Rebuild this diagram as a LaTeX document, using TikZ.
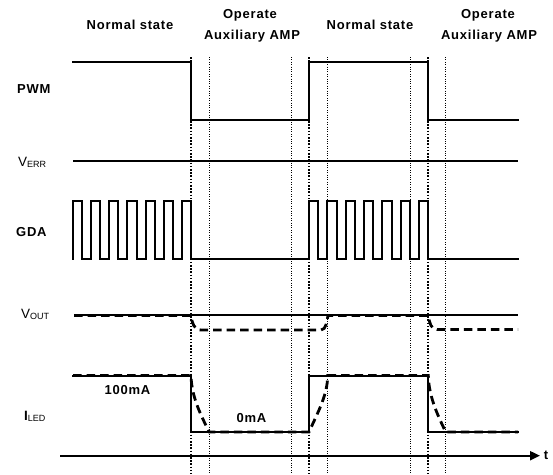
\documentclass[tikz,border=0pt]{standalone}
\usepackage{fontspec}
\setmainfont{Liberation Sans}
\newfontfamily\spfont[LetterSpace=6]{Liberation Sans}
\usetikzlibrary{arrows.meta}
\begin{document}
\begin{tikzpicture}[x=1pt,y=-1pt,
  sig/.style={line width=2pt, line join=miter, line cap=rect},
  thinsig/.style={line width=1.2pt},
  dsh/.style={line width=2.8pt, dash pattern=on 8.5pt off 5pt},
  bigdot/.style={line width=2pt, dash pattern=on 1.6pt off 1.6pt},
  smalldot/.style={line width=0.8pt, dash pattern=on 1pt off 1.4pt},
  hdr/.style={font=\spfont\bfseries\fontsize{13}{14}\selectfont, inner sep=0pt, anchor=base},
  lbl/.style={font=\spfont\bfseries\fontsize{13}{14}\selectfont, inner sep=0pt, anchor=base west},
  vlbl/.style={font=\fontsize{13.5}{14}\selectfont, inner sep=0pt, anchor=base west}]
\useasboundingbox (0,0) rectangle (553,474);

% header texts
\node[hdr] (ns1) at (130,29) {Normal state};
\node[hdr] (op1) at (250,18) {Operate};
\node[hdr] (ax1) at (252,39.5) {Auxiliary AMP};
\node[hdr] (ns2) at (370,29) {Normal state};
\node[hdr] (op2) at (488,18) {Operate};
\node[hdr] (ax2) at (489,39.5) {Auxiliary AMP};

% left labels
\node[lbl] (lpwm) at (17,93) {PWM};
\node[vlbl] (lerr) at (18,166.5) {V\raisebox{-1pt}{\fontsize{9}{10}\selectfont ERR}};
\node[lbl] (lgda) at (16,236.5) {GDA};
\node[vlbl] (lout) at (21,318.5) {V\raisebox{-1pt}{\fontsize{9}{10}\selectfont OUT}};
\node[vlbl] (lled) at (24,420.5) {\textbf{I}\raisebox{-1pt}{\fontsize{9}{10}\selectfont LED}};

% dotted vertical markers
\foreach \xx in {191,309,428.3} \draw[bigdot] (\xx,57) -- (\xx,474);
\foreach \xx in {209.3,291.7,327.7,410,445.7} \draw[smalldot] (\xx,57) -- (\xx,474);

% PWM
\draw[sig] (73,62) -- (191,62) -- (191,120) -- (309,120) -- (309,62) -- (428.3,62) -- (428.3,120) -- (518,120);
% VERR
\draw[thinsig] (73,161) -- (518,161);
% GDA
\pgfmathsetmacro{\ha}{118/13}
\pgfmathsetmacro{\hb}{119.3/13}
\draw[sig] (73,259)
  foreach \k in {0,...,6} { -- ({73+2*\k*\ha},259) -- ({73+2*\k*\ha},201) -- ({73+(2*\k+1)*\ha},201) -- ({73+(2*\k+1)*\ha},259) }
  -- (309,259)
  foreach \k in {0,...,6} { -- ({309+2*\k*\hb},259) -- ({309+2*\k*\hb},201) -- ({309+(2*\k+1)*\hb},201) -- ({309+(2*\k+1)*\hb},259) }
  -- (518,259);
% VOUT
\draw[thinsig] (74,315) -- (518,315);
\draw[dsh] (74,315.5) -- (191,315.5) .. controls (192,323) and (194,330) .. (201,330) -- (321,330)
  .. controls (326,330) and (327,321) .. (328,315.5) -- (428.3,315.5)
  .. controls (429.5,323) and (431,329.5) .. (437,329.5) -- (518,329.5);
% ILED
\draw[sig] (73,375.5) -- (191,375.5) -- (191,432) -- (309,432) -- (309,375.5) -- (428.3,375.5) -- (428.3,432) -- (518,432);
\draw[dsh] (73,375.5) -- (191,375.5) .. controls (191.5,395) and (199,412) .. (209.3,432) -- (309,432)
  .. controls (318,412) and (327.5,395) .. (327.7,375.5) -- (428.3,375.5)
  .. controls (428.8,395) and (436,412) .. (445.7,432) -- (518,432);
\node[hdr] (l100) at (127.5,394.5) {100mA};
\node[hdr] (l0) at (251.5,422.5) {0mA};

% time axis
\coordinate (ts) at (60,455.7);
\coordinate (te) at (540,455.7);
\draw[line width=2pt, -{Triangle[length=10pt,width=9pt]}] (ts) -- (te);
\node[font=\bfseries\fontsize{13}{14}\selectfont, inner sep=0pt] (lt) at (546,455) {t};
\end{tikzpicture}
\end{document}
